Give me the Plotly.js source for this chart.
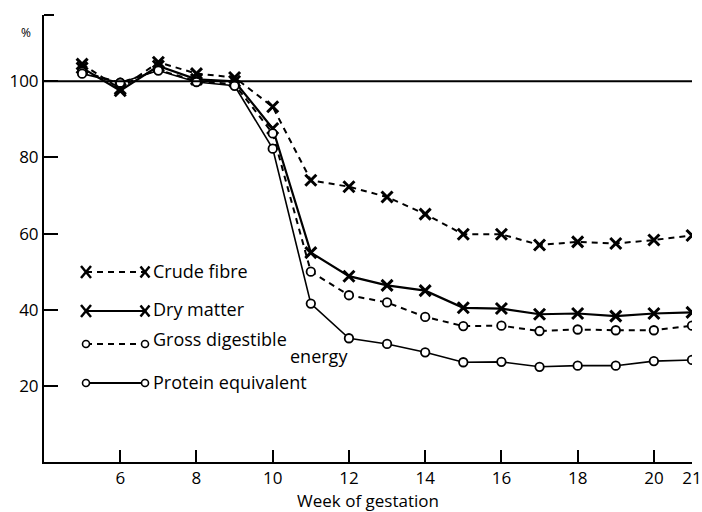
<!DOCTYPE html>
<html>
<head>
<meta charset="utf-8">
<script src="https://cdn.plot.ly/plotly-3.0.1.min.js"></script>
<style>
  html, body { margin: 0; padding: 0; background: #fff; }
  #chart { width: 702px; height: 512px; }
</style>
</head>
<body>
<div id="chart"></div>
<script>
// ---- data ----
const weeks = [5, 6, 7, 8, 9, 10, 11, 12, 13, 14, 15, 16, 17, 18, 19, 20, 21];
const crudeFibre = [104.5, 98, 105, 102, 101, 93.3, 74, 72.3, 69.6, 65.1, 59.8, 59.8, 57, 57.8, 57.4, 58.3, 59.5];
const dryMatter = [103.5, 97.5, 104, 100.5, 100, 87.6, 55, 48.8, 46.4, 45, 40.5, 40.3, 38.8, 39, 38.3, 39, 39.3];
const grossDigestibleEnergy = [102.5, 99.6, 103, 100, 99.2, 86.3, 50, 43.8, 41.9, 38.1, 35.7, 35.8, 34.4, 34.8, 34.6, 34.6, 35.8];
const proteinEquivalent = [102, 99.6, 102.8, 99.8, 98.8, 82.3, 41.6, 32.5, 31, 28.8, 26.2, 26.3, 25, 25.3, 25.3, 26.5, 26.8];

const xTickVals = [6, 8, 10, 12, 14, 16, 18, 20, 21];
const xTickText = ['6', '8', '10', '12', '14', '16', '18', '20', '21'];
const yTickVals = [20, 40, 60, 80, 100];
const yTickText = ['20', '40', '60', '80', '100'];
const referenceLevel = 100;

// ---- layout geometry ----
const FONT = '"Open Sans", Lato, "DejaVu Sans", sans-serif';
const M = { l: 44, r: 10, t: 15, b: 50 };
const PW = 702 - M.l - M.r, PH = 512 - M.t - M.b;
const px = x => (x - M.l) / PW;
const py = y => (512 - M.b - y) / PH;

const DASH = '6px,5px';
const xStyle = { symbol: 'x-thin', size: 11, color: '#000', line: { width: 3, color: '#000' } };
const oStyle = { symbol: 'circle', size: 8.5, color: '#fff', line: { width: 1.8, color: '#000' } };

const traces = [
  { x: weeks, y: crudeFibre, name: 'Crude fibre', mode: 'lines+markers',
    line: { color: '#000', width: 2, dash: DASH }, marker: xStyle },
  { x: weeks, y: dryMatter, name: 'Dry matter', mode: 'lines+markers',
    line: { color: '#000', width: 2.2 }, marker: xStyle },
  { x: weeks, y: grossDigestibleEnergy, name: 'Gross digestible energy', mode: 'lines+markers',
    line: { color: '#000', width: 2, dash: DASH }, marker: oStyle },
  { x: weeks, y: proteinEquivalent, name: 'Protein equivalent', mode: 'lines+markers',
    line: { color: '#000', width: 1.6 }, marker: oStyle }
];

// ---- hand-drawn style legend (layout only) ----
const LEG_FONT_SIZE = 18;
const legendRows = [
  { label: 'Crude fibre', sym: 'x', dash: true, y: 272, ty: 271 },
  { label: 'Dry matter', sym: 'x', dash: false, y: 311, ty: 309 },
  { label: 'Gross digestible', sym: 'o', dash: true, y: 344, ty: 339 },
  { label: 'Protein equivalent', sym: 'o', dash: false, y: 383, ty: 382 }
];
const LEG_X0 = 86, LEG_X1 = 145, LEG_TEXT_X = 151;

const shapes = [
  // 100 % reference line
  { type: 'line', xref: 'paper', yref: 'y', x0: 0, x1: 1, y0: referenceLevel, y1: referenceLevel,
    line: { color: '#000', width: 2 } },
  // small end-tick at the top of the y axis
  { type: 'line', xref: 'paper', yref: 'paper', x0: 0, x1: px(54), y0: 1, y1: 1,
    line: { color: '#000', width: 2 } }
];
const annotations = [
  { text: '%', xref: 'paper', yref: 'paper', x: px(26), y: py(32), showarrow: false,
    font: { family: FONT, size: 12, color: '#000' }, xanchor: 'center', yanchor: 'middle' }
];

function addX(cx, cy, s) {
  shapes.push({ type: 'line', xref: 'paper', yref: 'paper', x0: px(cx - s), x1: px(cx + s), y0: py(cy - s - 1), y1: py(cy + s + 1), line: { color: '#000', width: 2.5 } });
  shapes.push({ type: 'line', xref: 'paper', yref: 'paper', x0: px(cx + s), x1: px(cx - s), y0: py(cy - s - 1), y1: py(cy + s + 1), line: { color: '#000', width: 2.5 } });
}
function addO(cx, cy, r) {
  shapes.push({ type: 'circle', xref: 'paper', yref: 'paper', x0: px(cx - r), x1: px(cx + r), y0: py(cy - r), y1: py(cy + r), fillcolor: '#fff', line: { color: '#000', width: 1.6 } });
}
legendRows.forEach(row => {
  shapes.push({ type: 'line', xref: 'paper', yref: 'paper', x0: px(LEG_X0), x1: px(LEG_X1), y0: py(row.y), y1: py(row.y),
    line: { color: '#000', width: row.dash ? 1.8 : 2, dash: row.dash ? DASH : 'solid' } });
  if (row.sym === 'x') { addX(LEG_X0, row.y, 5); addX(LEG_X1, row.y, 4.5); }
  else { addO(LEG_X0, row.y, 3.5); addO(LEG_X1, row.y, 3.5); }
  annotations.push({ text: row.label, xref: 'paper', yref: 'paper', x: px(LEG_TEXT_X), y: py(row.ty),
    showarrow: false, xanchor: 'left', yanchor: 'middle', font: { family: FONT, size: LEG_FONT_SIZE, color: '#000' } });
});
annotations.push({ text: 'energy', xref: 'paper', yref: 'paper', x: px(288), y: py(356),
  showarrow: false, xanchor: 'left', yanchor: 'middle', font: { family: FONT, size: LEG_FONT_SIZE, color: '#000' } });

const layout = {
  width: 702, height: 512,
  margin: M,
  paper_bgcolor: '#fff', plot_bgcolor: '#fff',
  showlegend: false,
  font: { family: FONT, color: '#000' },
  xaxis: {
    range: [4, 21], tickvals: xTickVals, ticktext: xTickText,
    ticks: 'inside', ticklen: 12, tickwidth: 2, tickcolor: '#000',
    showline: true, linewidth: 2, linecolor: '#000', mirror: false,
    showgrid: false, zeroline: false,
    tickfont: { family: FONT, size: 17, color: '#000' },
    title: { text: 'Week of gestation', font: { family: FONT, size: 17, color: '#000' }, standoff: 5 }
  },
  yaxis: {
    range: [0, 117.4], tickvals: yTickVals, ticktext: yTickText,
    ticks: 'inside', ticklen: 14, tickwidth: 2, tickcolor: '#000',
    showline: true, linewidth: 2, linecolor: '#000',
    showgrid: false, zeroline: false,
    tickfont: { family: FONT, size: 17, color: '#000' }
  },
  shapes: shapes,
  annotations: annotations
};

Plotly.newPlot('chart', traces, layout, { displayModeBar: false, staticPlot: true });
</script>
</body>
</html>
